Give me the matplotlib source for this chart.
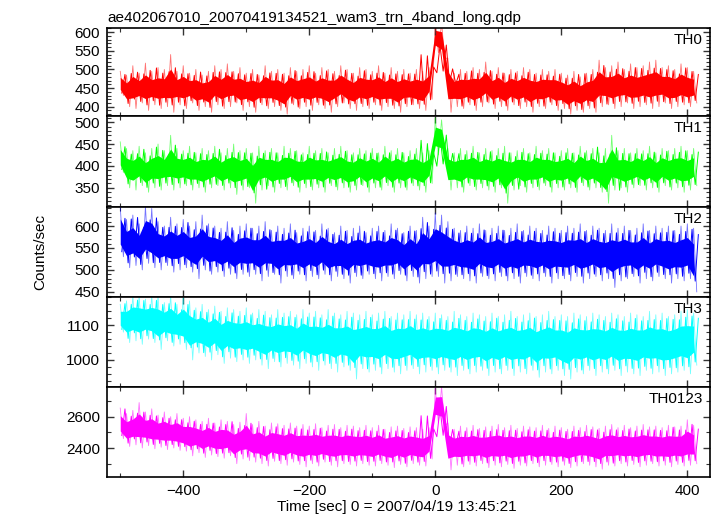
import numpy as np
import matplotlib
matplotlib.use('Agg')
import matplotlib.pyplot as plt
from matplotlib.ticker import MultipleLocator, FixedLocator

plt.rcParams['font.family'] = ['Liberation Sans', 'DejaVu Sans']

# time knots [sec], one every 10 s
t = np.arange(-500, 411, 10)

# upper / lower envelope of each light curve
th0_hi = [495, 485, 510, 490, 517, 495, 505, 500, 540, 495,
          510, 490, 500, 485, 495, 510, 500, 515, 495, 505,
          490, 500, 485, 510, 495, 500, 490, 505, 495, 500,
          510, 490, 505, 500, 495, 510, 500, 490, 505, 500,
          495, 510, 490, 505, 495, 500, 490, 500, 495, 505,
          625, 625, 530, 490, 500, 495, 505, 500, 520, 495,
          505, 490, 500, 495, 505, 500, 490, 500, 495, 500,
          490, 485, 495, 480, 490, 500, 525, 505, 510, 520,
          500, 515, 505, 510, 520, 525, 505, 510, 500, 515,
          505, 495]
th0_lo = [430, 400, 395, 410, 390, 405, 395, 400, 385, 405,
          395, 410, 390, 400, 385, 405, 395, 400, 410, 390,
          400, 385, 405, 395, 400, 390, 380, 405, 395, 400,
          390, 405, 395, 385, 400, 410, 395, 390, 400, 395,
          405, 390, 400, 395, 385, 400, 405, 395, 390, 420,
          545, 530, 385, 400, 395, 405, 390, 400, 410, 395,
          400, 390, 405, 395, 400, 385, 400, 395, 405, 390,
          395, 380, 390, 385, 395, 385, 400, 405, 395, 400,
          410, 395, 400, 405, 395, 400, 410, 395, 400, 405,
          400, 410]

th1_hi = [455, 440, 435, 445, 430, 440, 450, 435, 470, 440,
          435, 445, 430, 440, 435, 445, 430, 440, 450, 435,
          440, 430, 445, 435, 440, 430, 445, 440, 435, 430,
          445, 435, 440, 430, 440, 445, 435, 430, 440, 435,
          440, 430, 445, 435, 440, 430, 435, 440, 430, 435,
          510, 505, 440, 430, 440, 435, 445, 430, 440, 435,
          440, 445, 430, 435, 440, 430, 445, 435, 440, 430,
          435, 440, 430, 445, 435, 440, 430, 440, 470, 435,
          440, 430, 440, 435, 445, 430, 440, 435, 440, 445,
          435, 440]
th1_lo = [385, 350, 345, 355, 340, 350, 345, 355, 345, 350,
          355, 345, 350, 340, 350, 355, 345, 350, 335, 345,
          350, 315, 345, 355, 340, 350, 345, 355, 340, 350,
          345, 350, 340, 355, 345, 350, 340, 345, 355, 340,
          350, 345, 355, 340, 350, 345, 355, 345, 340, 360,
          425, 420, 345, 350, 340, 355, 345, 350, 345, 340,
          350, 315, 345, 355, 340, 350, 345, 355, 340, 350,
          345, 350, 340, 355, 345, 350, 340, 315, 345, 350,
          340, 350, 355, 345, 350, 340, 355, 345, 350, 340,
          345, 355]

th2_hi = [645, 615, 625, 605, 645, 640, 610, 600, 620, 605,
          615, 600, 610, 625, 605, 600, 595, 610, 590, 600,
          605, 595, 600, 610, 590, 600, 595, 605, 585, 595,
          600, 590, 605, 595, 585, 600, 590, 595, 600, 585,
          595, 600, 590, 605, 595, 585, 600, 590, 620, 600,
          630, 625, 610, 595, 590, 600, 595, 605, 590, 595,
          600, 590, 595, 605, 590, 600, 595, 590, 600, 595,
          590, 600, 595, 605, 590, 600, 595, 590, 605, 595,
          600, 590, 595, 605, 590, 600, 595, 600, 590, 600,
          605, 595]
th2_lo = [530, 505, 510, 500, 515, 505, 500, 510, 495, 500,
          505, 495, 480, 500, 490, 495, 485, 490, 480, 490,
          485, 490, 475, 485, 490, 470, 485, 480, 490, 475,
          485, 480, 490, 475, 485, 480, 470, 485, 480, 490,
          480, 475, 485, 480, 490, 475, 485, 470, 480, 485,
          485, 470, 475, 485, 480, 475, 470, 485, 480, 475,
          485, 475, 480, 470, 485, 480, 475, 485, 470, 480,
          480, 475, 485, 470, 480, 485, 475, 480, 460, 475,
          480, 485, 470, 480, 475, 485, 480, 470, 480, 475,
          480, 450]

th3_hi = [1160, 1170, 1185, 1185, 1175, 1185, 1185, 1165, 1185, 1160,
          1185, 1170, 1150, 1160, 1145, 1155, 1140, 1150, 1145, 1140,
          1150, 1135, 1145, 1140, 1130, 1145, 1135, 1140, 1130, 1145,
          1135, 1140, 1130, 1145, 1135, 1130, 1140, 1135, 1130, 1140,
          1130, 1135, 1140, 1125, 1135, 1130, 1140, 1130, 1135, 1125,
          1135, 1130, 1125, 1140, 1130, 1125, 1135, 1130, 1125, 1135,
          1125, 1130, 1140, 1125, 1130, 1135, 1125, 1130, 1140, 1125,
          1130, 1125, 1135, 1130, 1125, 1135, 1130, 1125, 1135, 1130,
          1125, 1135, 1130, 1125, 1140, 1130, 1135, 1125, 1130, 1140,
          1145, 1135]
th3_lo = [1080, 1050, 1055, 1045, 1060, 1050, 1030, 1055, 1040, 1045,
          1030, 1000, 1020, 1010, 1000, 1015, 990, 1005, 995, 1000,
          990, 1000, 985, 975, 995, 980, 990, 985, 975, 990,
          980, 970, 985, 975, 965, 980, 970, 945, 975, 965,
          970, 960, 975, 965, 960, 970, 975, 960, 965, 970,
          960, 970, 965, 955, 970, 960, 965, 970, 955, 965,
          960, 970, 955, 965, 960, 970, 950, 965, 960, 970,
          955, 945, 965, 960, 970, 955, 965, 960, 970, 955,
          965, 960, 955, 970, 960, 965, 955, 960, 965, 970,
          960, 985]

th0123_hi = [2655, 2620, 2640, 2690, 2630, 2650, 2610, 2630, 2600, 2620,
             2590, 2600, 2580, 2570, 2590, 2560, 2580, 2570, 2550, 2565,
             2620, 2550, 2570, 2540, 2560, 2555, 2545, 2560, 2540, 2550,
             2540, 2555, 2530, 2545, 2550, 2530, 2545, 2540, 2530, 2545,
             2530, 2545, 2520, 2535, 2540, 2525, 2535, 2530, 2520, 2530,
             2780, 2790, 2560, 2520, 2540, 2530, 2545, 2525, 2535, 2540,
             2550, 2530, 2545, 2525, 2540, 2535, 2530, 2545, 2525, 2540,
             2530, 2520, 2540, 2530, 2545, 2535, 2525, 2540, 2550, 2530,
             2545, 2530, 2540, 2550, 2535, 2540, 2530, 2545, 2535, 2540,
             2580, 2545]
th0123_lo = [2460, 2410, 2420, 2400, 2415, 2395, 2405, 2390, 2400, 2385,
             2380, 2350, 2370, 2340, 2355, 2345, 2335, 2350, 2300, 2330,
             2320, 2310, 2300, 2285, 2315, 2300, 2290, 2310, 2295, 2280,
             2300, 2285, 2310, 2290, 2280, 2300, 2295, 2285, 2300, 2290,
             2285, 2300, 2290, 2275, 2295, 2280, 2300, 2290, 2285, 2330,
             2560, 2540, 2260, 2290, 2280, 2295, 2285, 2300, 2275, 2290,
             2280, 2295, 2270, 2290, 2285, 2300, 2280, 2290, 2295, 2280,
             2290, 2275, 2285, 2300, 2290, 2280, 2265, 2290, 2285, 2300,
             2285, 2295, 2280, 2290, 2300, 2285, 2290, 2280, 2295, 2285,
             2290, 2300]

names = ['TH0', 'TH1', 'TH2', 'TH3', 'TH0123']
colors = ['#ff0000', '#00ff00', '#0000ff', '#00ffff', '#ff00ff']
his = [th0_hi, th1_hi, th2_hi, th3_hi, th0123_hi]
los = [th0_lo, th1_lo, th2_lo, th3_lo, th0123_lo]
ylims = [(375, 612), (307, 514), (439, 644), (923, 1182), (2217, 2791)]
yticks = [[400, 450, 500, 550, 600], [350, 400, 450, 500], [450, 500, 550, 600],
          [1000, 1100], [2400, 2600]]
yminor = [10, 10, 10, 20, 100]

W, H = 717, 516
fs = 11
fig = plt.figure(figsize=(W / 100, H / 100), dpi=100)

edges = [27.7, 116, 206.7, 296.7, 386.7, 476.7]
left, right = 107, 710

for i in range(5):
    top, bot = edges[i], edges[i + 1]
    ax = fig.add_axes([left / W, 1 - bot / H, (right - left) / W, (bot - top) / H])
    hi = np.array(his[i], dtype=float)
    lo = np.array(los[i], dtype=float)
    rng = hi - lo
    mid = 0.5 * (hi + lo)
    # dense core of the noise band
    ax.fill_between(t, mid - 0.25 * rng, mid + 0.25 * rng, color=colors[i], lw=0)
    # spiky extremes
    zx = np.ravel(np.column_stack([t, t + 5]))
    ax.plot(zx, np.ravel(np.column_stack([hi, lo])), color=colors[i], lw=0.6, alpha=0.55)
    # second set of strokes, using neighbouring knots so the spikes are uneven
    hi2 = 0.5 * (hi + np.roll(hi, -3))
    lo2 = 0.5 * (lo + np.roll(lo, 2))
    hi2[-3:] = hi[-3:]
    lo2[:2] = lo[:2]
    ax.plot(zx + 2.5, np.ravel(np.column_stack([mid + 0.8 * (lo2 - mid),
                                                  mid + 0.8 * (hi2 - mid)])),
            color=colors[i], lw=0.7)

    ax.set_xlim(-521, 436)
    ax.set_ylim(*ylims[i])
    ax.xaxis.set_major_locator(MultipleLocator(200))
    ax.xaxis.set_minor_locator(MultipleLocator(100))
    ax.yaxis.set_major_locator(FixedLocator(yticks[i]))
    ax.yaxis.set_minor_locator(MultipleLocator(yminor[i]))
    ax.tick_params(which='both', direction='in', top=True, right=True,
                   labelsize=fs, color='#333333', pad=5)
    ax.tick_params(which='major', length=5, width=1)
    ax.tick_params(which='minor', length=3, width=0.8)
    for s in ax.spines.values():
        s.set_linewidth(1.2)
    if i < 4:
        ax.tick_params(axis='x', labelbottom=False)
    ax.annotate(names[i], xy=(1, 1), xycoords='axes fraction', xytext=(-7, -12),
                textcoords='offset pixels', ha='right', va='center', fontsize=fs)
    if i == 0:
        ax.set_title('ae402067010_20070419134521_wam3_trn_4band_long.qdp',
                     loc='left', fontsize=fs, pad=4)

fig.text(40 / W, 1 - 252 / H, 'Counts/sec', rotation=90, ha='center', va='center',
         fontsize=fs)
fig.text(397 / W, 1 - 507 / H, 'Time [sec] 0 = 2007/04/19 13:45:21', ha='center',
         va='center', fontsize=fs)

fig.savefig('out.png', dpi=100)
